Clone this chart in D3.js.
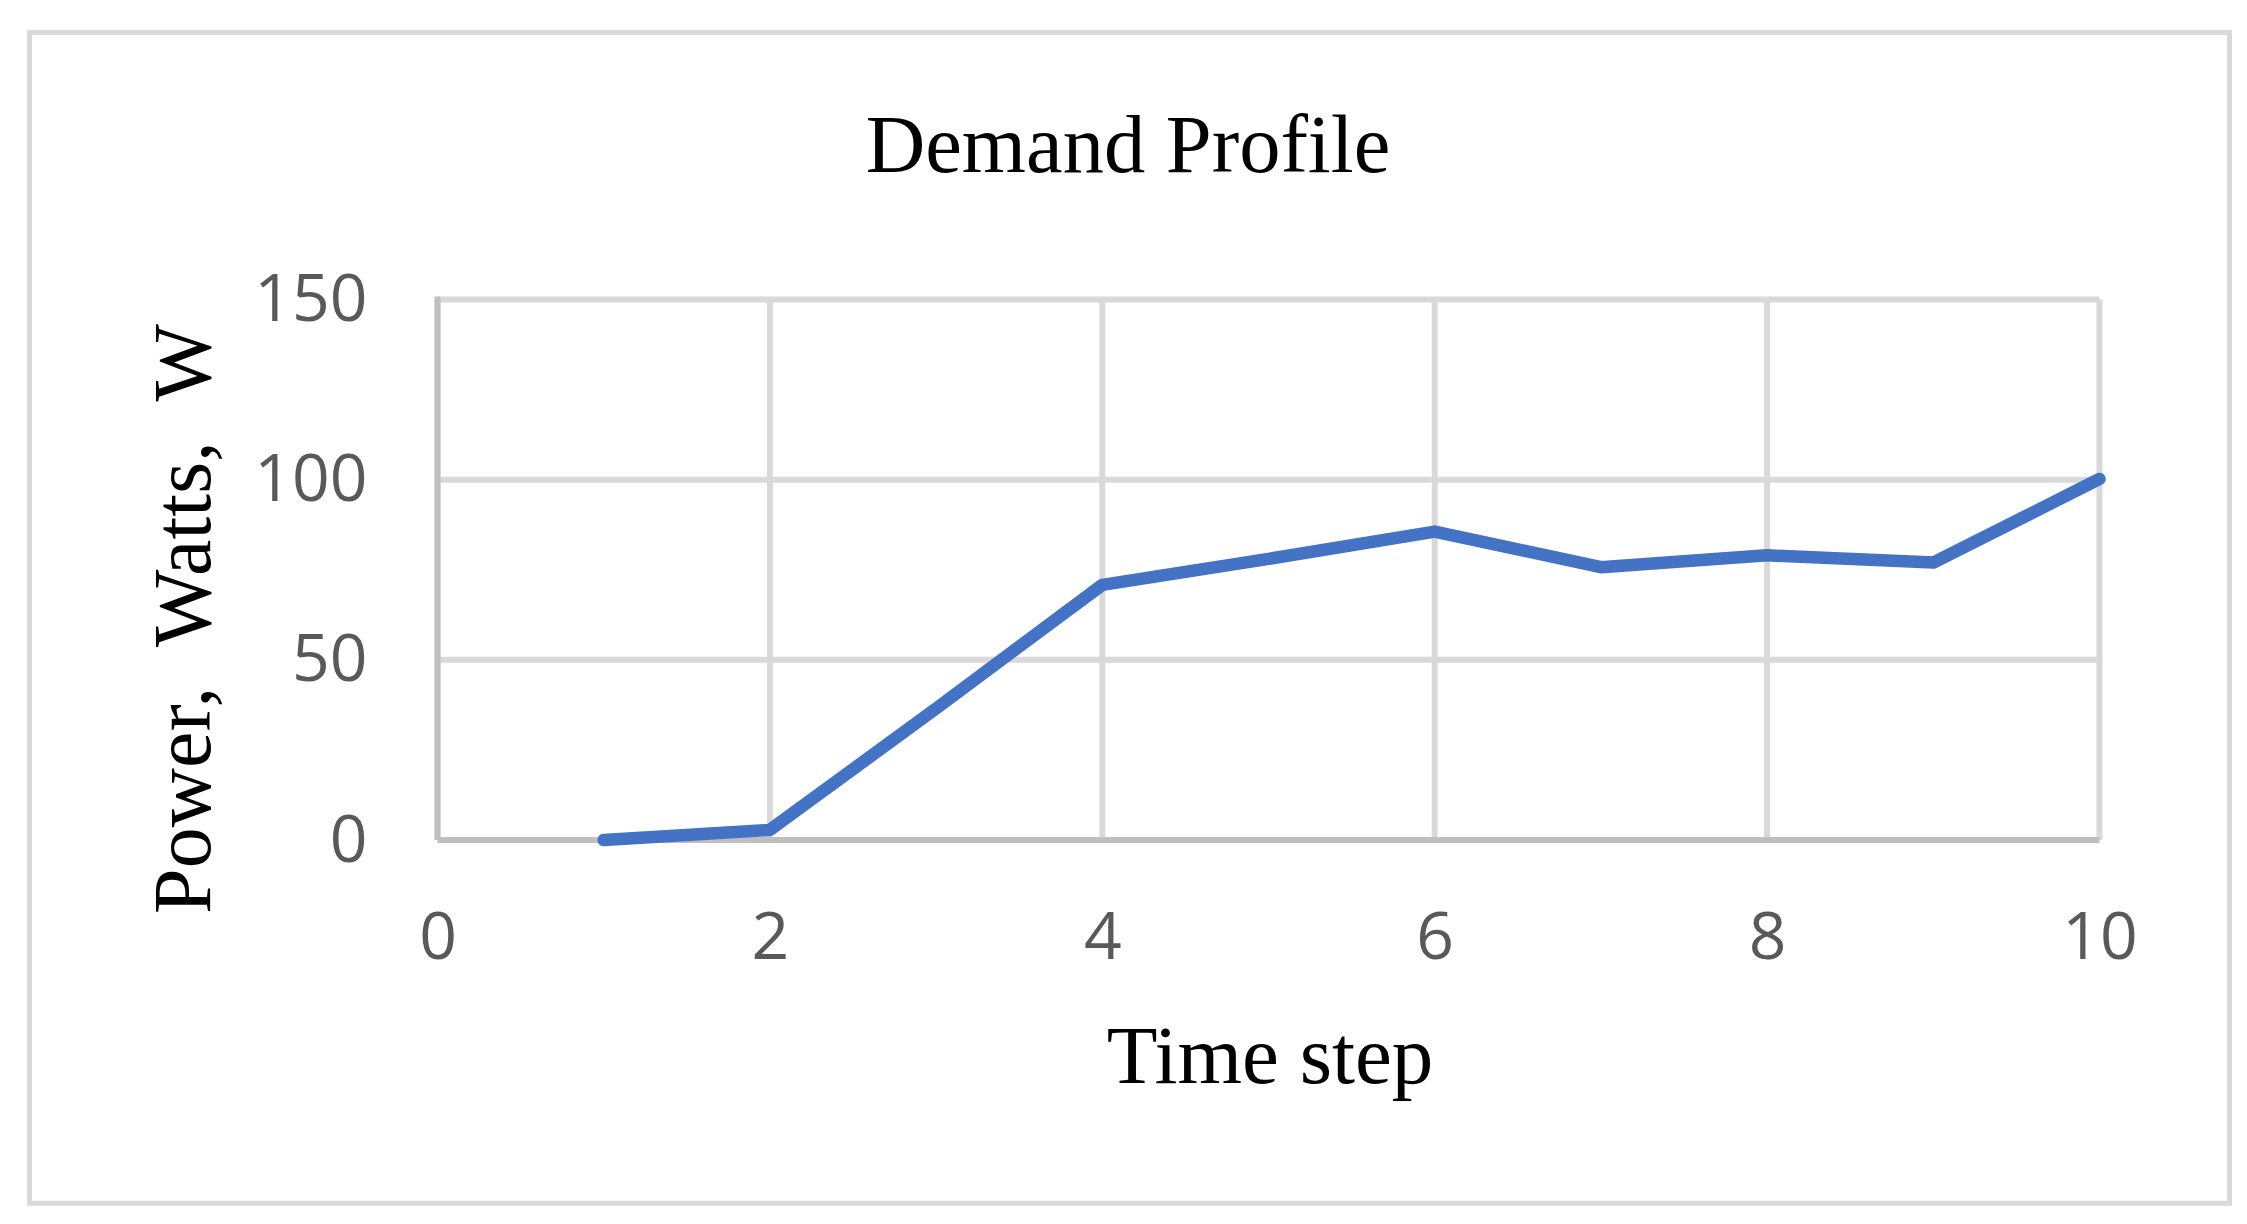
<!DOCTYPE html>
<html>
<head>
<meta charset="utf-8">
<script src="https://cdn.jsdelivr.net/npm/d3@7"></script>
<style>
  body { margin: 0; background: #fff; }
  svg { display: block; }
</style>
</head>
<body>
<div id="chart"></div>
<script>
// datos
const timeSteps = [1, 2, 3, 4, 5, 6, 7, 8, 9, 10];
const powerWatts = [0, 2.8, 36.5, 70.8, 78, 85.6, 75.7, 79, 77, 100.2];
const xTicks = [0, 2, 4, 6, 8, 10];
const yTicks = [0, 50, 100, 150];

const chartTitle = "Demand Profile";
const xTitle = "Time step";
const yTitle = "Power,  Watts,  W";

const svgWidth = 2247;
const svgHeight = 1224;

const svg = d3.select("#chart")
  .append("svg")
  .attr("width", svgWidth)
  .attr("height", svgHeight);

svg.append("rect")
  .attr("width", svgWidth)
  .attr("height", svgHeight)
  .attr("fill", "#fff");

// marco exterior
svg.append("rect")
  .attr("x", 29.5)
  .attr("y", 32.3)
  .attr("width", 2200)
  .attr("height", 1171)
  .attr("fill", "none")
  .attr("stroke", "#d9d9d9")
  .attr("stroke-width", 5);

const xScale = d3.scaleLinear().domain([0, 10]).range([437.5, 2099.5]);
const yScale = d3.scaleLinear().domain([0, 150]).range([840, 299.5]);

const grid = svg.append("g");

grid.selectAll(".hgrid")
  .data(yTicks)
  .enter().append("line")
  .attr("x1", xScale(0))
  .attr("x2", xScale(10))
  .attr("y1", d => yScale(d))
  .attr("y2", d => yScale(d))
  .attr("stroke", "#d9d9d9")
  .attr("stroke-width", 6);

grid.selectAll(".vgrid")
  .data(xTicks)
  .enter().append("line")
  .attr("x1", d => xScale(d))
  .attr("x2", d => xScale(d))
  .attr("y1", yScale(150))
  .attr("y2", yScale(0))
  .attr("stroke", "#d9d9d9")
  .attr("stroke-width", 6);

// lineas de ejes
svg.append("line")
  .attr("x1", xScale(0)).attr("x2", xScale(10))
  .attr("y1", yScale(0)).attr("y2", yScale(0))
  .attr("stroke", "#bfbfbf")
  .attr("stroke-width", 6);

svg.append("line")
  .attr("x1", xScale(0)).attr("x2", xScale(0))
  .attr("y1", yScale(150) - 3).attr("y2", yScale(0))
  .attr("stroke", "#bfbfbf")
  .attr("stroke-width", 6);

// etiquetas de ejes
const xAxis = svg.append("g")
  .attr("transform", `translate(0,${yScale(0)})`)
  .call(d3.axisBottom(xScale).tickValues(xTicks).tickSize(0).tickPadding(72).tickFormat(d3.format("d")));

const yAxis = svg.append("g")
  .attr("transform", `translate(${xScale(0)},0)`)
  .call(d3.axisLeft(yScale).tickValues(yTicks).tickSize(0).tickPadding(70).tickFormat(d3.format("d")));

[xAxis, yAxis].forEach(ax => {
  ax.select(".domain").remove();
  ax.attr("font-family", "'Open Sans', sans-serif")
    .attr("font-size", 66);
  ax.selectAll("text").attr("fill", "#595959");
});

// serie
const line = d3.line()
  .x((d, i) => xScale(timeSteps[i]))
  .y(d => yScale(d));

svg.append("path")
  .datum(powerWatts)
  .attr("d", line)
  .attr("fill", "none")
  .attr("stroke", "#4472c4")
  .attr("stroke-width", 12.5)
  .attr("stroke-linecap", "round")
  .attr("stroke-linejoin", "round");

// titulos
const serif = "'Liberation Serif', 'Times New Roman', serif";

svg.append("text")
  .attr("x", 1128)
  .attr("y", 172)
  .attr("text-anchor", "middle")
  .attr("font-family", serif)
  .attr("font-size", 82.5)
  .attr("fill", "#000")
  .text(chartTitle);

svg.append("text")
  .attr("x", 1270)
  .attr("y", 1083)
  .attr("text-anchor", "middle")
  .attr("font-family", serif)
  .attr("font-size", 83)
  .attr("fill", "#000")
  .text(xTitle);

svg.append("text")
  .attr("transform", "translate(210,619) rotate(-90)")
  .attr("text-anchor", "middle")
  .attr("font-family", serif)
  .attr("font-size", 82)
  .attr("fill", "#000")
  .style("white-space", "pre")
  .attr("textLength", 590)
  .attr("lengthAdjust", "spacing")
  .text(yTitle);
</script>
</body>
</html>
